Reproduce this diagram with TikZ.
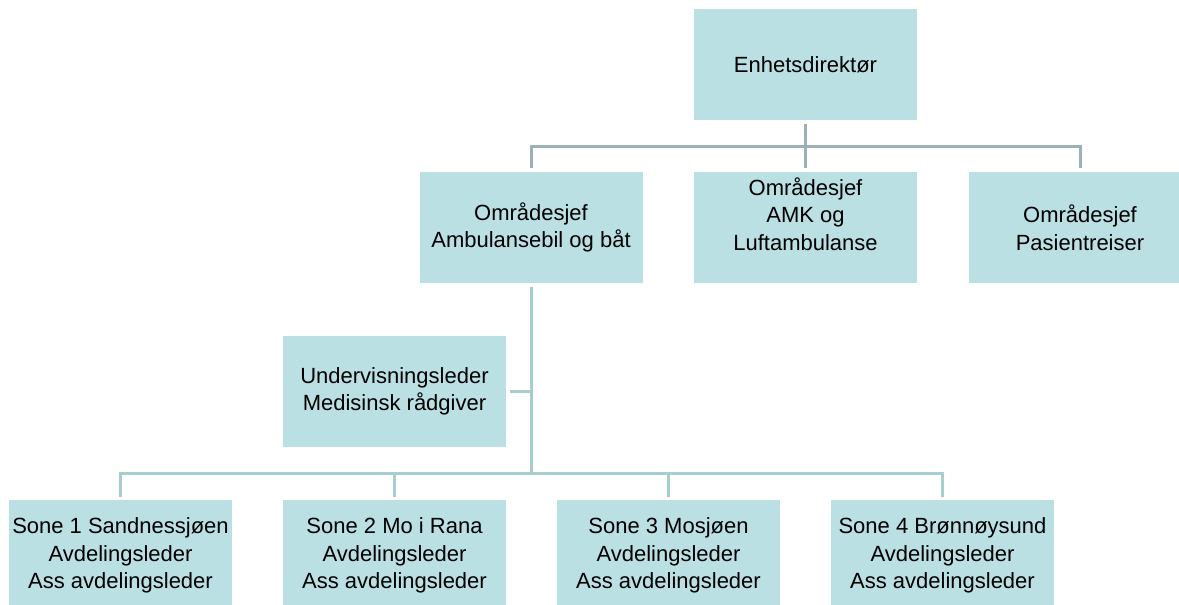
\documentclass[tikz,border=0pt]{standalone}
\usepackage{fontspec}
\setmainfont{Liberation Sans}
\definecolor{boxfill}{HTML}{BBE0E3}
\definecolor{topline}{HTML}{9AB2B5}
\definecolor{lowline}{HTML}{A8CDD0}
\tikzset{
  orgbox/.style={fill=boxfill, minimum width=223pt, minimum height=111pt,
    inner sep=0pt, align=center, font=\fontsize{22}{27.5}\selectfont},
  upline/.style={draw=topline, line width=3pt},
  loline/.style={draw=lowline, line width=3pt}
}
\begin{document}
\begin{tikzpicture}[x=1pt,y=-1pt]
  \useasboundingbox (0,0) rectangle (1179,605);
  \clip (0,0) rectangle (1179,605);
  % boxes
  \node [orgbox] (dir) at (805.5,64.5) {Enhetsdirektør};
  \node [orgbox] (amb) at (531,227.5) {Områdesjef\\Ambulansebil og båt};
  \node [orgbox] (amk) at (805.5,227.5) {Områdesjef\\AMK og\\Luftambulanse\\\mbox{}};
  \node [orgbox] (pas) at (1080,227.5) {Områdesjef\\Pasientreiser};
  \node [orgbox] (und) at (394.5,391.5) {Undervisningsleder\\Medisinsk rådgiver};
  \node [orgbox] (s1) at (120.5,555.5) {Sone 1 Sandnessjøen\\Avdelingsleder\\Ass avdelingsleder};
  \node [orgbox] (s2) at (394.5,555.5) {Sone 2 Mo i Rana\\Avdelingsleder\\Ass avdelingsleder};
  \node [orgbox] (s3) at (668.5,555.5) {Sone 3 Mosjøen\\Avdelingsleder\\Ass avdelingsleder};
  \node [orgbox] (s4) at (942.5,555.5) {Sone 4 Brønnøysund\\Avdelingsleder\\Ass avdelingsleder};
  % upper tree
  \coordinate (bus1) at ([yshift=-26pt]dir.south);
  \draw [upline, shorten <=4pt] (dir.south) -- (bus1);
  \draw [upline, shorten >=4pt] (bus1) -- (amk.north);
  \foreach \n in {amb,pas}
    \draw [upline, shorten >=4pt] (bus1) -| (\n.north);
  % lower tree
  \coordinate (bus2) at ([yshift=-190pt]amb.south);
  \draw [loline, shorten <=4pt] (amb.south) -- (bus2);
  \draw [loline, shorten >=4pt] (amb.south |- und.east) -- (und.east);
  \foreach \n in {s1,s2,s3,s4}
    \draw [loline, shorten >=3pt] (bus2) -| (\n.north);
\end{tikzpicture}
\end{document}
